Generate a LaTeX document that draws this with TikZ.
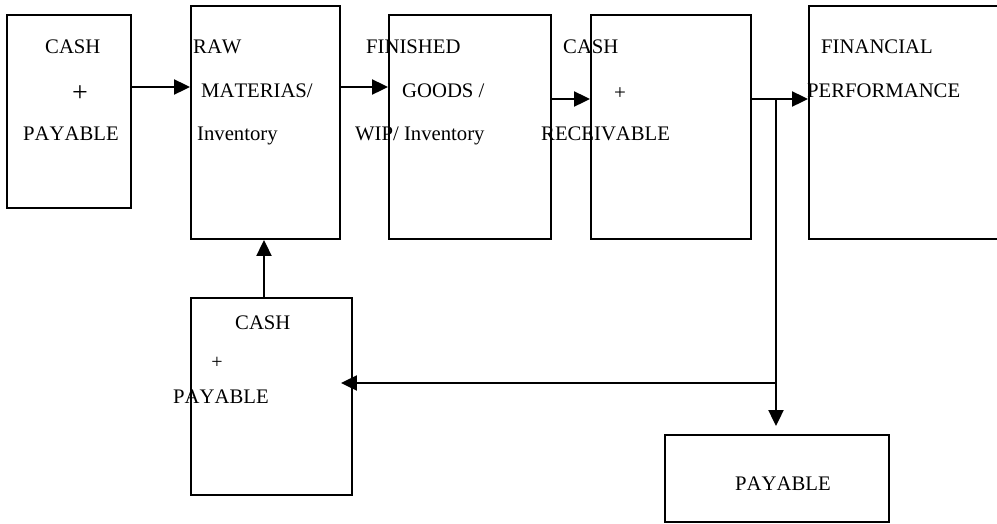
\documentclass[tikz,border=0pt]{standalone}
\usepackage{fontspec}
\setmainfont[Kerning=Off]{Liberation Serif}
\usetikzlibrary{arrows.meta,fit}
\begin{document}
\begin{tikzpicture}[x=1pt,y=-1pt,
  box/.style={draw,line width=1.9pt,inner sep=0pt},
  lbl/.style={anchor=base west,inner sep=0pt,font=\fontsize{20.7}{24}\selectfont},
  plus/.style={anchor=center,inner sep=0pt},
  conn/.style={line width=2.1pt,-{Triangle[length=16pt,width=15pt]}},
  plain/.style={line width=2.1pt}
]
\useasboundingbox (0,0) rectangle (997,523);
\clip (0,0) rectangle (997,523);
% boxes
\node[box,fit={(7,15) (131,208)}] (b1) {};
\node[box,fit={(191,6) (340,239)}] (b2) {};
\node[box,fit={(389,15) (551,239)}] (b3) {};
\node[box,fit={(591,15) (751,239)}] (b4) {};
\node[box,fit={(809,6) (1010,239)}] (b5) {};
\node[box,fit={(191,298) (352,495)}] (b6) {};
\node[box,fit={(665,435) (889,522)}] (b7) {};
% texts
\node[lbl] (t1a) at (45,53) {CASH};
\node[plus,font=\fontsize{28}{30}\selectfont] (t1b) at (80,94) {+};
\node[lbl] (t1c) at (23,140) {PAYABLE};
\node[lbl] (t2a) at (193,53) {RAW};
\node[lbl] (t2b) at (201,97) {MATERIAS/};
\node[lbl] (t2c) at (197,140) {Inventory};
\node[lbl] (t3a) at (366,53) {FINISHED};
\node[lbl] (t3b) at (402,97) {GOODS /};
\node[lbl] (t3c) at (355,140) {WIP/ Inventory};
\node[lbl] (t4a) at (563,53) {CASH};
\node[plus,font=\fontsize{21}{24}\selectfont] (t4b) at (620,94) {+};
\node[lbl] (t4c) at (541,140) {RECEIVABLE};
\node[lbl] (t5a) at (821,53) {FINANCIAL};
\node[lbl] (t5b) at (807,97) {PERFORMANCE};
\node[lbl] (t6a) at (235,329) {CASH};
\node[plus,font=\fontsize{20}{24}\selectfont] (t6b) at (217,363) {+};
\node[lbl] (t6c) at (173,403) {PAYABLE};
\node[lbl] (t7a) at (735,490) {PAYABLE};
% helper coordinates
\coordinate (r1) at (0,87);
\coordinate (r2) at (0,99);
\coordinate (v) at (264,0);
\coordinate (j) at (776,99);
\coordinate (j2) at (776,383);
% connectors
\draw[conn] (b1.east |- r1) -- (b2.west |- r1);
\draw[conn] (b2.east |- r1) -- (b3.west |- r1);
\draw[conn] (b3.east |- r2) -- (b4.west |- r2);
\draw[conn] (b4.east |- r2) -- (b5.west |- r2);
\draw[plain] (j) -- (j2);
\draw[conn,shorten >=8pt] (j2) -- (b7.north -| j2);
\draw[conn,shorten >=-12pt] (j2) -- (b6.east |- j2);
\draw[conn] (b6.north -| v) -- (b2.south -| v);
\end{tikzpicture}
\end{document}
